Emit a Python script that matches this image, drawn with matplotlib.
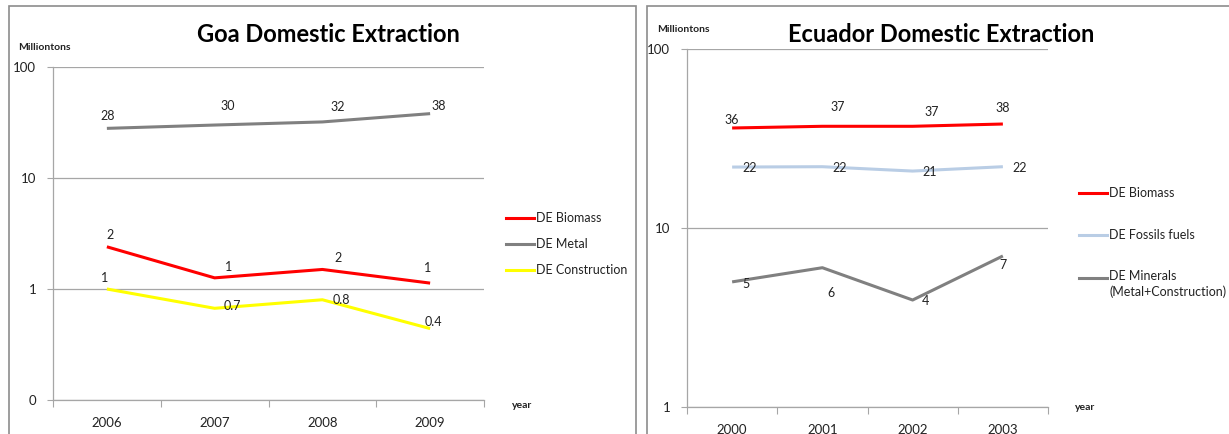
import numpy as np
import matplotlib.pyplot as plt
from matplotlib.lines import Line2D
from matplotlib.patches import Rectangle

W, H = 1229, 434
FONT = ["Lato", "DejaVu Sans"]

# Goa, million tonnes
goa_years = ["2006", "2007", "2008", "2009"]
goa_biomass = [2.4, 1.26, 1.5, 1.13]
goa_metal = [28, 30, 32, 38]
goa_construction = [1.0, 0.67, 0.8, 0.44]

# Ecuador, million tonnes
ecu_years = ["2000", "2001", "2002", "2003"]
ecu_biomass = [36.2, 37, 37, 38.1]
ecu_fossils = [21.9, 22, 20.8, 22]
ecu_minerals = [5.0, 6.0, 3.96, 6.98]

RED = "#ff0000"
GREY = "#808080"
YELLOW = "#ffff00"
LIGHTBLUE = "#b9cde5"
AXIS = "#a6a6a6"
TEXT = "#222222"


def fx(x):
    return x / W


def fy(y):
    return 1 - y / H


def fmt_value(v):
    if v < 0.95:
        return f"{v:.1f}"
    return f"{v:.0f}"


def draw_series(ax, values, color, offsets, lw=2.2):
    x = np.arange(len(values))
    ax.plot(x, values, color=color, lw=lw, solid_capstyle="butt", zorder=3)
    for xi, v, (dx, dy) in zip(x, values, offsets):
        ax.annotate(fmt_value(v), (xi, v), xytext=(dx, dy),
                    textcoords="offset pixels", ha="center", va="center",
                    fontsize=9, color=TEXT, family=FONT, zorder=4)


def setup_axes(ax, years, ymin, yticks, yticklabels):
    ax.set_yscale("log")
    ax.set_ylim(ymin, 100)
    ax.set_xlim(-0.5, len(years) - 0.5)
    ax.yaxis.set_major_locator(plt.FixedLocator(yticks))
    ax.yaxis.set_minor_locator(plt.NullLocator())
    ax.set_yticklabels(yticklabels, family=FONT, fontsize=9.5, color=TEXT)
    ax.grid(axis="y", color=AXIS, lw=0.9)
    ax.set_axisbelow(True)
    for side in ("top", "right"):
        ax.spines[side].set_visible(False)
    for side in ("left", "bottom"):
        ax.spines[side].set_color(AXIS)
        ax.spines[side].set_linewidth(0.9)
    # tick marks between categories, labels at category centres
    ax.set_xticks(np.arange(-0.5, len(years), 1.0))
    ax.set_xticklabels([])
    ax.set_xticks(np.arange(len(years)), minor=True)
    ax.set_xticklabels(years, minor=True, family=FONT, fontsize=9.5, color=TEXT)
    ax.tick_params(axis="x", which="major", length=5, color=AXIS)
    ax.tick_params(axis="x", which="minor", length=0, pad=12)
    ax.tick_params(axis="y", length=4, color=AXIS, pad=8)


def legend_entry(fig, x, y, color, label, text_y=None, va="center"):
    fig.add_artist(Line2D([fx(x), fx(x + 28)], [fy(y), fy(y)], color=color, lw=2.2))
    fig.text(fx(x + 30), fy(y if text_y is None else text_y), label, ha="left", va=va,
             multialignment="left", fontsize=9, family=FONT, color=TEXT, linespacing=1.35)


def small_bold(fig, x, y, s):
    fig.text(fx(x), fy(y), s, ha="left", va="center", fontsize=7.5,
             fontweight="bold", family=FONT, color=TEXT)


fig = plt.figure(figsize=(W / 100, H / 100), dpi=100)
fig.patch.set_facecolor("white")

# panel frames
fig.add_artist(Rectangle((fx(9), fy(440)), fx(627), 434 / H, transform=fig.transFigure,
                         fill=False, edgecolor="#8c8c8c", lw=1.2))
fig.add_artist(Rectangle((fx(647), fy(440)), fx(600), 434 / H, transform=fig.transFigure,
                         fill=False, edgecolor="#8c8c8c", lw=1.2))

# Goa panel
ax1 = fig.add_axes([fx(53), fy(400), fx(484 - 53), (400 - 67) / H])
setup_axes(ax1, goa_years, 0.1, [0.1, 1, 10, 100], ["0", "1", "10", "100"])
draw_series(ax1, goa_metal, GREY, [(1, 12), (13, 19), (15, 15), (9, 8)])
draw_series(ax1, goa_biomass, RED, [(3, 12), (14, 11), (16, 11), (-3, 15)])
draw_series(ax1, goa_construction, YELLOW, [(-2, 11), (18, 2), (19, 0), (3, 7)])
fig.text(fx(328), fy(35), "Goa Domestic Extraction", ha="center", va="center",
         fontsize=17, fontweight="bold", family=FONT)
small_bold(fig, 18, 47, "Milliontons")
small_bold(fig, 512, 406, "year")
legend_entry(fig, 506, 218, RED, "DE Biomass")
legend_entry(fig, 506, 244, GREY, "DE Metal")
legend_entry(fig, 506, 270, YELLOW, "DE Construction")

# Ecuador panel
ax2 = fig.add_axes([fx(687), fy(407), fx(1048 - 687), (407 - 49) / H])
setup_axes(ax2, ecu_years, 1, [1, 10, 100], ["1", "10", "100"])
draw_series(ax2, ecu_biomass, RED, [(0, 8), (15, 19), (19, 14), (0, 16)])
draw_series(ax2, ecu_fossils, LIGHTBLUE, [(18, -1), (17, -1), (17, -1), (17, -1)])
draw_series(ax2, ecu_minerals, GREY, [(14, -2), (9, -25), (13, -1), (0, -9)])
fig.text(fx(941), fy(35), "Ecuador Domestic Extraction", ha="center", va="center",
         fontsize=17, fontweight="bold", family=FONT)
small_bold(fig, 657, 29, "Milliontons")
small_bold(fig, 1075, 408, "year")
legend_entry(fig, 1079, 193, RED, "DE Biomass")
legend_entry(fig, 1079, 235, LIGHTBLUE, "DE Fossils fuels")
legend_entry(fig, 1079, 278, GREY, "DE Minerals\n(Metal+Construction)",
             text_y=270, va="top")

fig.savefig("out.png", dpi=100)
